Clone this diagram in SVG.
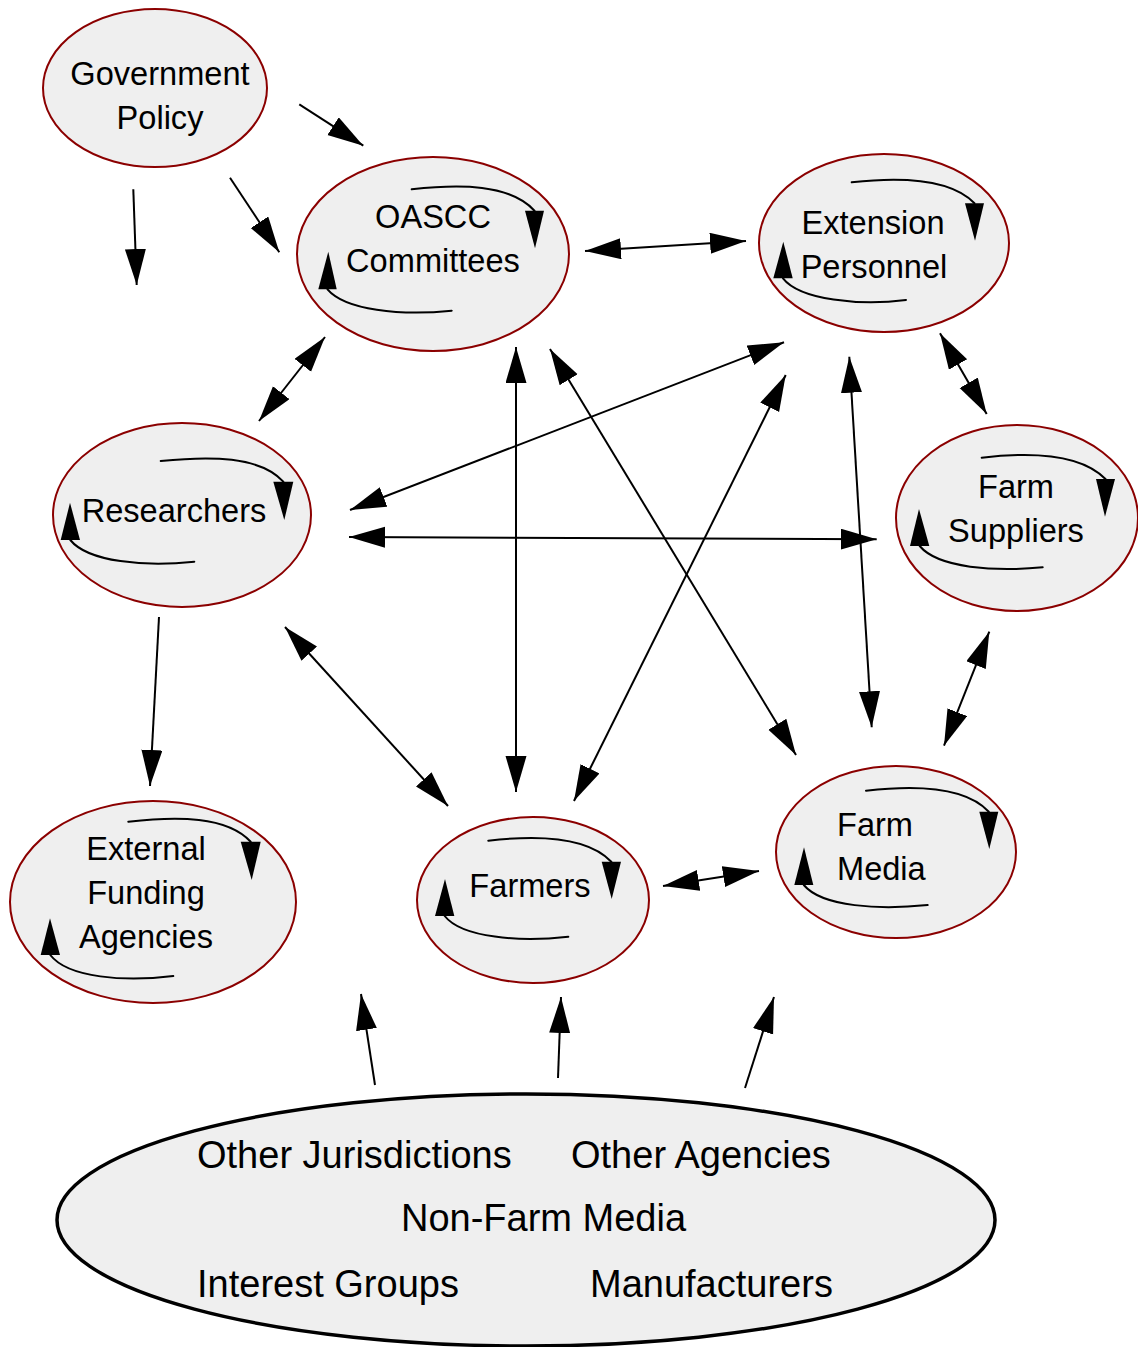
<svg xmlns="http://www.w3.org/2000/svg" width="1138" height="1347" viewBox="0 0 1138 1347">
<defs>
<style>
.node{fill:#efefef;stroke:#8b0000;stroke-width:2}
.env{fill:#efefef;stroke:#000;stroke-width:3.5}
.lbl{font-family:"Liberation Sans",Arial,sans-serif;font-size:32.6px;fill:#000;text-anchor:middle}
.big{font-family:"Liberation Sans",Arial,sans-serif;font-size:38px;fill:#000}
.cyc{fill:none;stroke:#000;stroke-width:2;stroke-linecap:round}
.cah{fill:#000}
.con line{stroke:#000;stroke-width:2}
.one{marker-end:url(#ah)}
.two{marker-start:url(#ah);marker-end:url(#ah)}
</style>
<marker id="ah" markerUnits="userSpaceOnUse" markerWidth="37" markerHeight="22" refX="36" refY="10.5" orient="auto-start-reverse" viewBox="0 0 37 22">
<path d="M0,0 L36,10.5 L0,21 z" fill="#000"/>
</marker>
</defs>
<rect width="1138" height="1347" fill="#fff"/>

<g id="connectors" class="con">
<line class="one" x1="133.3" y1="189.3" x2="136.7" y2="285"/>
<line class="one" x1="230" y1="177.7" x2="279.3" y2="252.3"/>
<line class="one" x1="299.3" y1="104.3" x2="363.3" y2="145.7"/>
<line class="two" x1="585" y1="251" x2="746" y2="241"/>
<line class="two" x1="325" y1="337" x2="259" y2="421"/>
<line class="two" x1="516" y1="347" x2="516" y2="792"/>
<line class="two" x1="550" y1="349" x2="796" y2="755"/>
<line class="two" x1="784" y1="342.3" x2="350" y2="510"/>
<line class="two" x1="785.7" y1="375" x2="574" y2="801"/>
<line class="two" x1="849.3" y1="356.7" x2="871.7" y2="727.3"/>
<line class="two" x1="940" y1="333.3" x2="986.7" y2="414"/>
<line class="two" x1="349" y1="537" x2="876.7" y2="539.3"/>
<line class="one" x1="159" y1="617" x2="150" y2="786"/>
<line class="two" x1="285" y1="627" x2="448" y2="806"/>
<line class="two" x1="989.3" y1="631.7" x2="944" y2="745.7"/>
<line class="two" x1="663" y1="886" x2="759" y2="871"/>
<line class="one" x1="375" y1="1085" x2="361" y2="994"/>
<line class="one" x1="558" y1="1078" x2="561" y2="997"/>
<line class="one" x1="745" y1="1088" x2="774" y2="997"/>
</g>

<g id="government-policy">
<ellipse class="node" cx="155" cy="88" rx="112" ry="79"/>
<text class="lbl" x="160" y="85">Government</text>
<text class="lbl" x="160" y="129">Policy</text>
</g>

<g id="oascc-committees">
<ellipse class="node" cx="433" cy="254" rx="136" ry="97"/>
<path class="cyc" d="M411.7,189.3 C460,184 510,184 534.5,210.7"/>
<polygon class="cah" points="525,210.7 544,210.7 535,248.3"/>
<path class="cyc" d="M451.7,310.7 C400,316 345,310 327.5,289.3"/>
<polygon class="cah" points="318.3,289.3 336.7,289.3 328.3,251.7"/>
<text class="lbl" x="433" y="228">OASCC</text>
<text class="lbl" x="433" y="272">Committees</text>
</g>

<g id="extension-personnel">
<ellipse class="node" cx="884" cy="243" rx="125" ry="89"/>
<path class="cyc" d="M851.7,182.3 C900,177 950,178 974.5,203.3"/>
<polygon class="cah" points="965,203.3 984,203.3 975,240.7"/>
<path class="cyc" d="M906,300 C860,306 800,300 783,278.3"/>
<polygon class="cah" points="773.3,278.3 792.7,278.3 783.3,241.7"/>
<text class="lbl" x="873" y="234">Extension</text>
<text class="lbl" x="874" y="278">Personnel</text>
</g>

<g id="researchers">
<ellipse class="node" cx="182" cy="515" rx="129" ry="92"/>
<path class="cyc" d="M160.7,461 C210,456 260,456 283.3,481.7"/>
<polygon class="cah" points="273.3,481.7 293.3,481.7 284.3,520"/>
<path class="cyc" d="M194.3,561.7 C145,567 88,562 70.3,540"/>
<polygon class="cah" points="60.7,540 80,540 70,502.7"/>
<text class="lbl" x="174" y="522">Researchers</text>
</g>

<g id="farm-suppliers">
<ellipse class="node" cx="1017" cy="518" rx="121" ry="93"/>
<path class="cyc" d="M981.7,457.7 C1030,452 1080,453 1105.5,479"/>
<polygon class="cah" points="1096,479 1115,479 1105,516.7"/>
<path class="cyc" d="M1042.7,567.3 C995,572 938,568 919.7,546"/>
<polygon class="cah" points="910,546 929.3,546 919,509"/>
<text class="lbl" x="1016" y="498">Farm</text>
<text class="lbl" x="1016" y="542">Suppliers</text>
</g>

<g id="external-funding-agencies">
<ellipse class="node" cx="153" cy="902" rx="143" ry="101"/>
<path class="cyc" d="M128.3,821.7 C177,816 227,816 250.7,841.7"/>
<polygon class="cah" points="240.7,841.7 260.7,841.7 251.7,880"/>
<path class="cyc" d="M173.3,976 C125,982 68,978 50.3,955"/>
<polygon class="cah" points="40.7,955 60,955 50,918.3"/>
<text class="lbl" x="146" y="860">External</text>
<text class="lbl" x="146" y="904">Funding</text>
<text class="lbl" x="146" y="948">Agencies</text>
</g>

<g id="farmers">
<ellipse class="node" cx="533" cy="900" rx="116" ry="83"/>
<path class="cyc" d="M488.3,840.7 C537,835 587,836 611.3,861.7"/>
<polygon class="cah" points="601.7,861.7 621,861.7 611.7,899"/>
<path class="cyc" d="M568.3,936.7 C520,942 462,938 444.7,916"/>
<polygon class="cah" points="435,916 454.3,916 445,879"/>
<text class="lbl" x="530" y="897">Farmers</text>
</g>

<g id="farm-media">
<ellipse class="node" cx="896" cy="852" rx="120" ry="86"/>
<path class="cyc" d="M866,790.7 C915,785 965,786 988.8,811.7"/>
<polygon class="cah" points="979.3,811.7 998.3,811.7 989.3,849"/>
<path class="cyc" d="M927.7,905 C880,910 822,907 803.8,885"/>
<polygon class="cah" points="794.3,885 813.3,885 804,847.3"/>
<text class="lbl" x="837" y="836" style="text-anchor:start">Farm</text>
<text class="lbl" x="837" y="880" style="text-anchor:start">Media</text>
</g>

<g id="environment">
<ellipse class="env" cx="526" cy="1220" rx="469" ry="126"/>
<text class="big" x="197" y="1168">Other Jurisdictions</text>
<text class="big" x="571" y="1168">Other Agencies</text>
<text class="big" x="401" y="1231">Non-Farm Media</text>
<text class="big" x="197" y="1297">Interest Groups</text>
<text class="big" x="590" y="1297">Manufacturers</text>
</g>
</svg>
